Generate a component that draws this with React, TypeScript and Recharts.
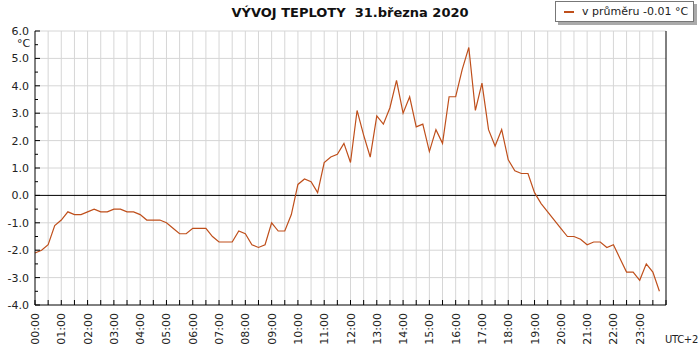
import { Line, LineChart, ReferenceLine, XAxis, YAxis } from 'recharts'

// 15-minute readings, 00:00 .. 23:45
const temps = [
  -2.1, -2.0, -1.8, -1.1,
  -0.9, -0.6, -0.7, -0.7,
  -0.6, -0.5, -0.6, -0.6,
  -0.5, -0.5, -0.6, -0.6,
  -0.7, -0.9, -0.9, -0.9,
  -1.0, -1.2, -1.4, -1.4,
  -1.2, -1.2, -1.2, -1.5,
  -1.7, -1.7, -1.7, -1.3,
  -1.4, -1.8, -1.9, -1.8,
  -1.0, -1.3, -1.3, -0.7,
  0.4, 0.6, 0.5, 0.1,
  1.2, 1.4, 1.5, 1.9,
  1.2, 3.1, 2.2, 1.4,
  2.9, 2.6, 3.2, 4.2,
  3.0, 3.6, 2.5, 2.6,
  1.6, 2.4, 1.9, 3.6,
  3.6, 4.6, 5.4, 3.1,
  4.1, 2.4, 1.8, 2.4,
  1.3, 0.9, 0.8, 0.8,
  0.1, -0.3, -0.6, -0.9,
  -1.2, -1.5, -1.5, -1.6,
  -1.8, -1.7, -1.7, -1.9,
  -1.8, -2.3, -2.8, -2.8,
  -3.1, -2.5, -2.8, -3.5,
]

const yTicks = [-4, -3.5, -3, -2.5, -2, -1.5, -1, -0.5, 0, 0.5, 1, 1.5, 2, 2.5, 3, 3.5, 4, 4.5, 5, 5.5, 6]
const yGrid = [-3, -2, -1, 1, 2, 3, 4, 5, 6]
const xTicks = Array.from({ length: 49 }, (_, i) => i / 2)

const data = temps.map((t, i) => ({ time: i * 0.25, temp: t }))

const FONT = '"DejaVu Sans", Verdana, sans-serif'
const TEXT = '#222'
const LINE = '#bf4f1b'
const GRID = '#d6d6d6'

const hourLabel = (v: number) => `${String(v).padStart(2, '0')}:00`

// eslint-disable-next-line @typescript-eslint/no-explicit-any
const LeftTick = (props: any) => {
  const { x, y, payload } = props
  const v = payload.value as number
  const major = Number.isInteger(v)
  const ax = x + 6
  return (
    <g>
      <line x1={ax} x2={ax + (major ? 5 : 3)} y1={y} y2={y} stroke="#000" />
      {major && (
        <text x={x} y={y} dy={4} textAnchor="end" fontSize={11} fill={TEXT} style={{ fontFamily: FONT }}>
          {v.toFixed(1)}
        </text>
      )}
    </g>
  )
}

// eslint-disable-next-line @typescript-eslint/no-explicit-any
const RightTick = (props: any) => {
  const { x, y, payload } = props
  const v = payload.value as number
  const major = Number.isInteger(v)
  const ax = x - 8
  return (
    <g>
      <line x1={ax} x2={ax - (major ? 5 : 3)} y1={y} y2={y} stroke="#000" />
      {major && (
        <text x={x} y={y} dy={4} textAnchor="start" fontSize={11} fill={TEXT} style={{ fontFamily: FONT }}>
          {v.toFixed(1)}
        </text>
      )}
    </g>
  )
}

// eslint-disable-next-line @typescript-eslint/no-explicit-any
const BottomTick = (props: any) => {
  const { x, y, payload } = props
  const v = payload.value as number
  const ay = y - 8
  return (
    <g>
      <line x1={x} x2={x} y1={ay} y2={ay - 5} stroke="#000" />
      {Number.isInteger(v) && v < 24 && (
        <text x={x} y={y} dy={4} textAnchor="end" transform={`rotate(-90 ${x} ${y})`}
          fontSize={11} fill={TEXT} style={{ fontFamily: FONT }}>
          {hourLabel(v)}
        </text>
      )}
    </g>
  )
}

export default function App() {
  return (
    <div style={{ position: 'absolute', left: 0, top: 0, width: 700, height: 350, background: '#fff', fontFamily: FONT }}>
      <LineChart width={700} height={350} data={data} margin={{ top: 31, right: 0, bottom: 0, left: 0 }}>
        <XAxis dataKey="time" type="number" domain={[0, 24]} ticks={xTicks} interval={0} height={45}
          axisLine={{ stroke: '#000' }} tickLine={false} tickSize={0} tickMargin={8} tick={<BottomTick />} />
        <YAxis yAxisId="left" type="number" domain={[-4, 6]} ticks={yTicks} interval={0} width={35}
          axisLine={{ stroke: '#000' }} tickLine={false} tickSize={0} tickMargin={6} tick={<LeftTick />} />
        <YAxis yAxisId="right" orientation="right" type="number" domain={[-4, 6]} ticks={yTicks} interval={0} width={34}
          axisLine={{ stroke: '#000' }} tickLine={false} tickSize={0} tickMargin={8} tick={<RightTick />} />
        {xTicks.slice(1, -1).map((t) => (
          <ReferenceLine key={`gx${t}`} yAxisId="left" x={t} stroke={GRID} strokeWidth={1} />
        ))}
        {yGrid.map((v) => (
          <ReferenceLine key={`gy${v}`} yAxisId="left" y={v} stroke={GRID} strokeWidth={1} />
        ))}
        <ReferenceLine yAxisId="left" y={0} stroke="#000" />
        <Line yAxisId="left" type="linear" dataKey="temp" stroke={LINE} strokeWidth={1.2}
          dot={false} activeDot={false} isAnimationActive={false} />
      </LineChart>

      <div style={{ position: 'absolute', left: 0, width: 700, top: 5, textAlign: 'center', fontSize: 13, fontWeight: 'bold', color: '#111', whiteSpace: 'pre' }}>
        {'VÝVOJ TEPLOTY  31.března 2020'}
      </div>

      <div style={{ position: 'absolute', left: 555, top: 1, width: 137, height: 19, border: '1px solid #777', background: '#fff',
        boxShadow: '3px 3px 0 #aaa', display: 'flex', alignItems: 'center', fontSize: 11, color: TEXT }}>
        <span style={{ display: 'inline-block', width: 10, height: 2, background: LINE, marginLeft: 8, marginRight: 8 }} />
        <span>v průměru -0.01 °C</span>
      </div>

      <div style={{ position: 'absolute', left: 17, top: 37, fontSize: 11, color: TEXT }}>°C</div>
      <div style={{ position: 'absolute', right: 2, top: 334, fontSize: 10, letterSpacing: -0.3, color: TEXT }}>UTC+2</div>
    </div>
  )
}
